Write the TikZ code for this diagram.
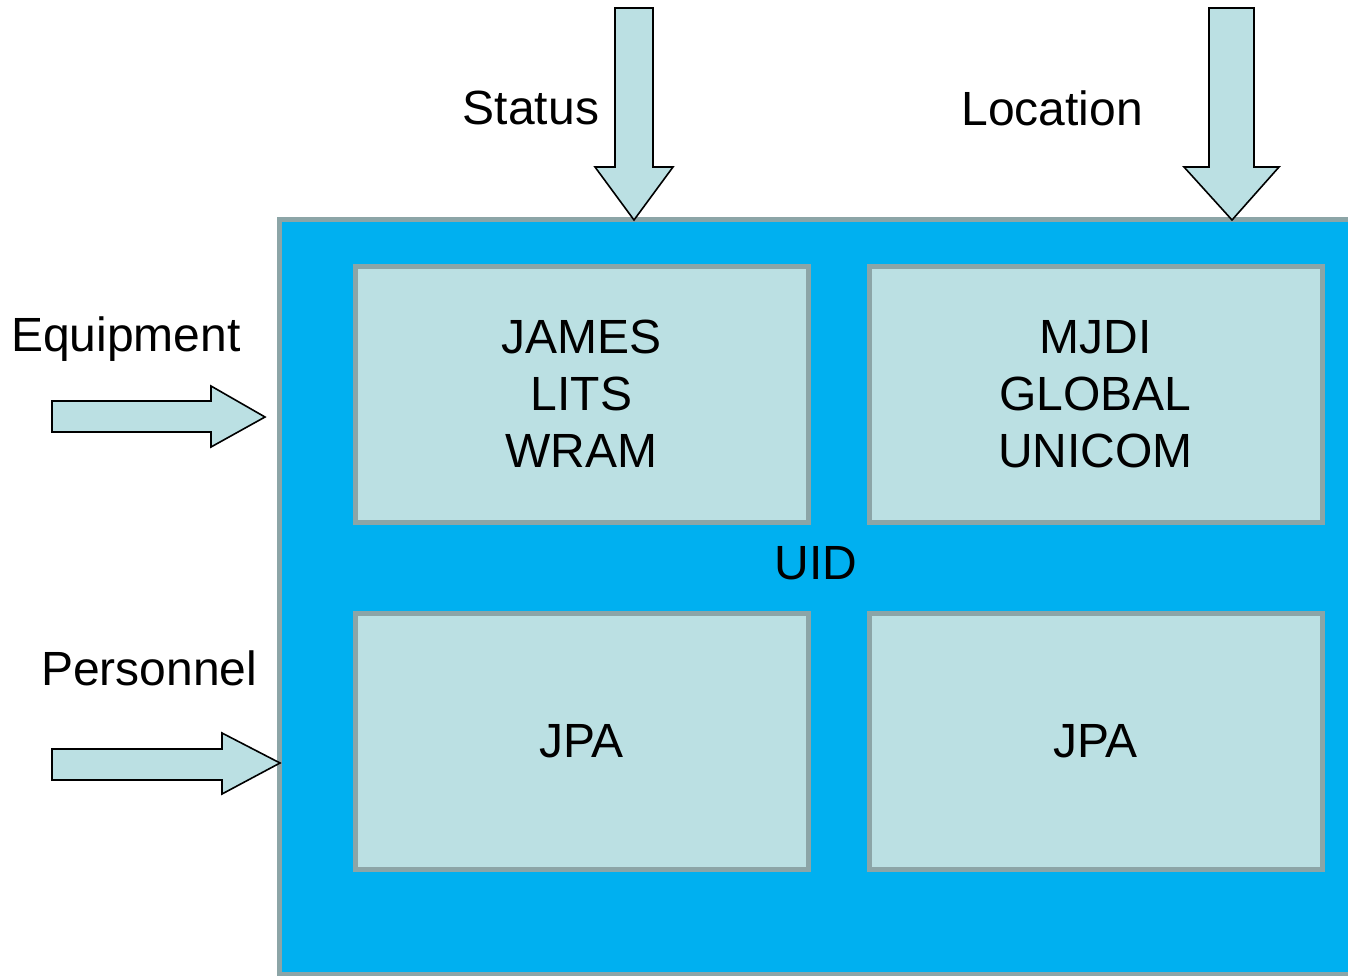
\documentclass[tikz,border=0pt]{standalone}
\usepackage{fontspec}
\setmainfont{Liberation Sans}
\definecolor{outerfill}{HTML}{00B0F0}
\definecolor{boxfill}{HTML}{BBE0E3}
\definecolor{boxline}{HTML}{8CA5A7}
\begin{document}
\begin{tikzpicture}[x=1pt,y=-1pt,
  txt/.style={font=\fontsize{48}{57}\selectfont, inner sep=0pt, outer sep=0pt, align=center},
  panel/.style={draw=boxline, line width=5pt, fill=boxfill, txt},
  blockarrow/.style={draw=black, line width=1.6pt, fill=boxfill, line join=miter}]
\useasboundingbox (0,0) rectangle (1348,976);
\clip (0,0) rectangle (1348,976);
% outer UID box
\node[draw=boxline, line width=5pt, fill=outerfill, inner sep=0pt, outer sep=0pt, minimum width=1100pt, minimum height=754pt, anchor=north west] (uid) at (279.5,220) {};
\node[txt] (uidlbl) at (816,563) {UID};
% panels
\node[panel, minimum width=453pt, minimum height=256pt] (tl) at (581.5,394) {JAMES\\LITS\\WRAM};
\node[panel, minimum width=453pt, minimum height=256pt] (tr) at (1095.5,394) {MJDI\\GLOBAL\\UNICOM};
\node[panel, minimum width=453pt, minimum height=256pt] (bl) at (581.5,741) {JPA};
\node[panel, minimum width=453pt, minimum height=256pt] (br) at (1095.5,741) {JPA};
% arrows
\draw[blockarrow] (615,8) -- (653,8) -- (653,167) -- (673,167) -- (634,220) -- (595,167) -- (615,167) -- cycle;
\draw[blockarrow] (1209,8) -- (1254,8) -- (1254,167) -- (1279,167) -- (1232,220) -- (1184,167) -- (1209,167) -- cycle;
\draw[blockarrow] (52,401) -- (211,401) -- (211,386) -- (265,417) -- (211,447) -- (211,432) -- (52,432) -- cycle;
\draw[blockarrow] (52,749) -- (222,749) -- (222,733) -- (280,763) -- (222,794) -- (222,780) -- (52,780) -- cycle;
% labels
\node[txt, anchor=east] (status) at (599,108) {Status};
\node[txt, anchor=east] (location) at (1143,108) {Location};
\node[txt, anchor=west] (equip) at (11,339) {Equipment};
\node[txt, anchor=west] (pers) at (41,668) {Personnel};
\end{tikzpicture}
\end{document}
